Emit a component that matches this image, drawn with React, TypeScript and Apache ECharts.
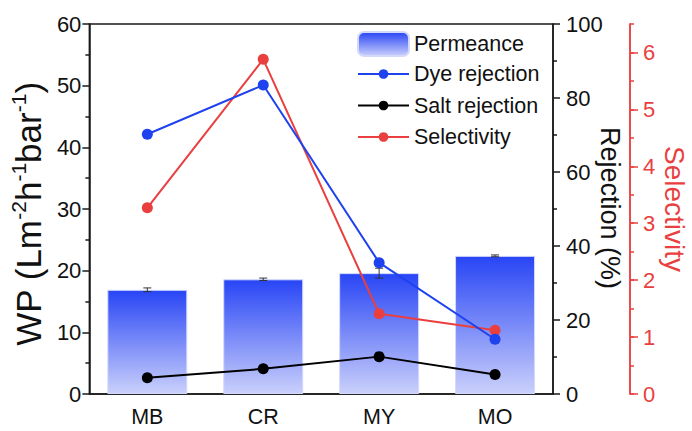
import React, { useEffect, useRef } from "react";
import * as echarts from "echarts";

const categories = ["MB", "CR", "MY", "MO"];
const permeance = [16.9, 18.6, 19.6, 22.4];
const permeanceErr = [0.3, 0.2, 0.8, 0.15];
const dyeRejection = [70.2, 83.5, 35.5, 14.8];
const saltRejection = [4.4, 6.8, 10.1, 5.3];
const selectivity = [3.27, 5.88, 1.41, 1.12];
const selectivityTicks = [0, 1, 2, 3, 4, 5, 6];
const rejectionTitle = "Rejection (%)";
const selectivityTitle = "Selectivity";

const FONT = 'Arial, "Liberation Sans", sans-serif';
const RED = "#e93f3f";
const BLUE = "#1f42ef";
const AX = "#1a1a1a";

export default function App() {
  const ref = useRef<HTMLDivElement>(null);
  useEffect(() => {
    if (!ref.current) return;
    const chart = echarts.init(ref.current, undefined, { renderer: "svg" });
    const barGrad = new echarts.graphic.LinearGradient(0, 0, 0, 1, [
      { offset: 0, color: "#2845f5" },
      { offset: 1, color: "#cad0fb" },
    ]);
    const errData = categories.map((_, i) => [i, permeance[i], permeanceErr[i]]);
    const option: any = {
      animation: false,
      textStyle: { fontFamily: FONT },
      grid: {
        left: 89,
        right: 139,
        top: 24,
        bottom: 37,
        show: true,
        borderColor: AX,
        borderWidth: 1.5,
        backgroundColor: "transparent",
      },
      graphic: [
        {
          type: "text",
          x: 610,
          y: 208,
          rotation: -Math.PI / 2,
          style: {
            text: rejectionTitle,
            fontSize: 27,
            fontFamily: FONT,
            fill: "#111",
            align: "center",
            verticalAlign: "middle",
          },
        },
        {
          type: "text",
          x: 674,
          y: 209,
          rotation: -Math.PI / 2,
          style: {
            text: selectivityTitle,
            fontSize: 28,
            fontFamily: FONT,
            fill: RED,
            align: "center",
            verticalAlign: "middle",
          },
        },
      ],
      legend: [
        {
          data: ["Permeance"],
          left: 357,
          top: 31,
          padding: 0,
          orient: "vertical",
          itemWidth: 51,
          itemHeight: 24,
          textStyle: { fontSize: 21.5, color: "#111", fontFamily: FONT },
          selectedMode: false,
        },
        {
          data: ["Dye rejection", "Salt rejection", "Selectivity"],
          left: 357,
          top: 63,
          padding: 0,
          orient: "vertical",
          itemWidth: 51,
          itemHeight: 12,
          itemGap: 9.5,
          textStyle: { fontSize: 21.5, color: "#111", fontFamily: FONT, lineHeight: 18 },
          selectedMode: false,
        },
      ],
      xAxis: {
        type: "category",
        data: categories,
        boundaryGap: true,
        axisLine: { lineStyle: { color: AX, width: 1.5 } },
        axisTick: { alignWithLabel: true, length: 6, lineStyle: { color: AX, width: 1.5 } },
        axisLabel: { fontSize: 21.5, color: "#111", margin: 12, fontFamily: FONT },
      },
      yAxis: [
        {
          type: "value",
          min: 0,
          max: 60,
          interval: 10,
          position: "left",
          name: "{m|WP (Lm}{s|-2}{m|h}{s|-1}{m|bar}{s|-1}{m|)}",
          nameLocation: "middle",
          nameGap: 39,
          nameTextStyle: {
            fontFamily: FONT,
            padding: [0, 10, 0, 0],
            rich: {
              m: { fontSize: 35, color: "#111", fontFamily: FONT, lineHeight: 38, verticalAlign: "bottom" },
              s: { fontSize: 21, color: "#111", fontFamily: FONT, verticalAlign: "top" },
            },
          },
          splitLine: { show: false },
          axisLine: { show: true, lineStyle: { color: AX, width: 1.5 } },
          axisTick: { show: true, length: 7, lineStyle: { color: AX, width: 1.5 } },
          minorTick: { show: true, splitNumber: 2, length: 4, lineStyle: { color: AX, width: 1.5 } },
          axisLabel: { fontSize: 22, color: "#111", margin: 8, fontFamily: FONT },
        },
        {
          type: "value",
          min: 0,
          max: 100,
          interval: 20,
          position: "right",
          splitLine: { show: false },
          axisLine: { show: true, lineStyle: { color: AX, width: 1.5 } },
          axisTick: { show: true, length: 7, lineStyle: { color: AX, width: 1.5 } },
          minorTick: { show: true, splitNumber: 2, length: 4, lineStyle: { color: AX, width: 1.5 } },
          axisLabel: { fontSize: 22, color: "#111", margin: 13, fontFamily: FONT },
        },
        {
          type: "value",
          min: 0,
          max: 6.5,
          interval: 0.5,
          position: "right",
          offset: 77,
          splitLine: { show: false },
          axisLine: { show: true, lineStyle: { color: RED, width: 1.5 } },
          axisTick: { show: true, length: 4, lineStyle: { color: RED, width: 1.5 } },
          axisLabel: { show: false },
        },
        {
          type: "value",
          min: 0,
          max: 6.5,
          interval: 1,
          position: "right",
          offset: 77,
          splitLine: { show: false },
          axisLine: { show: true, lineStyle: { color: RED, width: 1.5 } },
          axisTick: { show: true, length: 8, customValues: selectivityTicks, lineStyle: { color: RED, width: 1.5 } },
          axisLabel: {
            fontSize: 22,
            color: RED,
            margin: 13,
            fontFamily: FONT,
            customValues: selectivityTicks,
            formatter: (v: number) => (v > 6 ? "" : String(v)),
          },
        },
      ],
      series: [
        {
          name: "Permeance",
          type: "bar",
          yAxisIndex: 0,
          data: permeance,
          barWidth: "69%",
          itemStyle: { color: barGrad, borderColor: "#d4d9fc", borderWidth: 1 },
          z: 1,
        },
        {
          name: "errbar",
          type: "custom",
          yAxisIndex: 0,
          data: errData,
          encode: { x: 0, y: 1 },
          z: 3,
          renderItem: (params: any, api: any) => {
            const i = api.value(0);
            const v = api.value(1);
            const e = api.value(2);
            const hi = api.coord([i, v + e]);
            const lo = api.coord([i, v - e]);
            const w = 4;
            const st = { stroke: "#333", lineWidth: 1 };
            return {
              type: "group",
              children: [
                { type: "line", shape: { x1: hi[0], y1: hi[1], x2: lo[0], y2: lo[1] }, style: st },
                { type: "line", shape: { x1: hi[0] - w, y1: hi[1], x2: hi[0] + w, y2: hi[1] }, style: st },
                { type: "line", shape: { x1: lo[0] - w, y1: lo[1], x2: lo[0] + w, y2: lo[1] }, style: st },
              ],
            };
          },
        },
        {
          name: "Selectivity",
          type: "line",
          yAxisIndex: 2,
          data: selectivity,
          symbol: "circle",
          symbolSize: 11,
          lineStyle: { color: RED, width: 2 },
          itemStyle: { color: RED },
          z: 4,
        },
        {
          name: "Salt rejection",
          type: "line",
          yAxisIndex: 1,
          data: saltRejection,
          symbol: "circle",
          symbolSize: 11,
          lineStyle: { color: "#000", width: 2 },
          itemStyle: { color: "#000" },
          z: 4,
        },
        {
          name: "Dye rejection",
          type: "line",
          yAxisIndex: 1,
          data: dyeRejection,
          symbol: "circle",
          symbolSize: 11,
          lineStyle: { color: BLUE, width: 2 },
          itemStyle: { color: BLUE },
          z: 5,
        },
      ],
    };
    chart.setOption(option);
    return () => chart.dispose();
  }, []);
  return (
    <div
      ref={ref}
      style={{ position: "fixed", left: 0, top: 0, width: 692, height: 431, background: "#fff" }}
    />
  );
}
